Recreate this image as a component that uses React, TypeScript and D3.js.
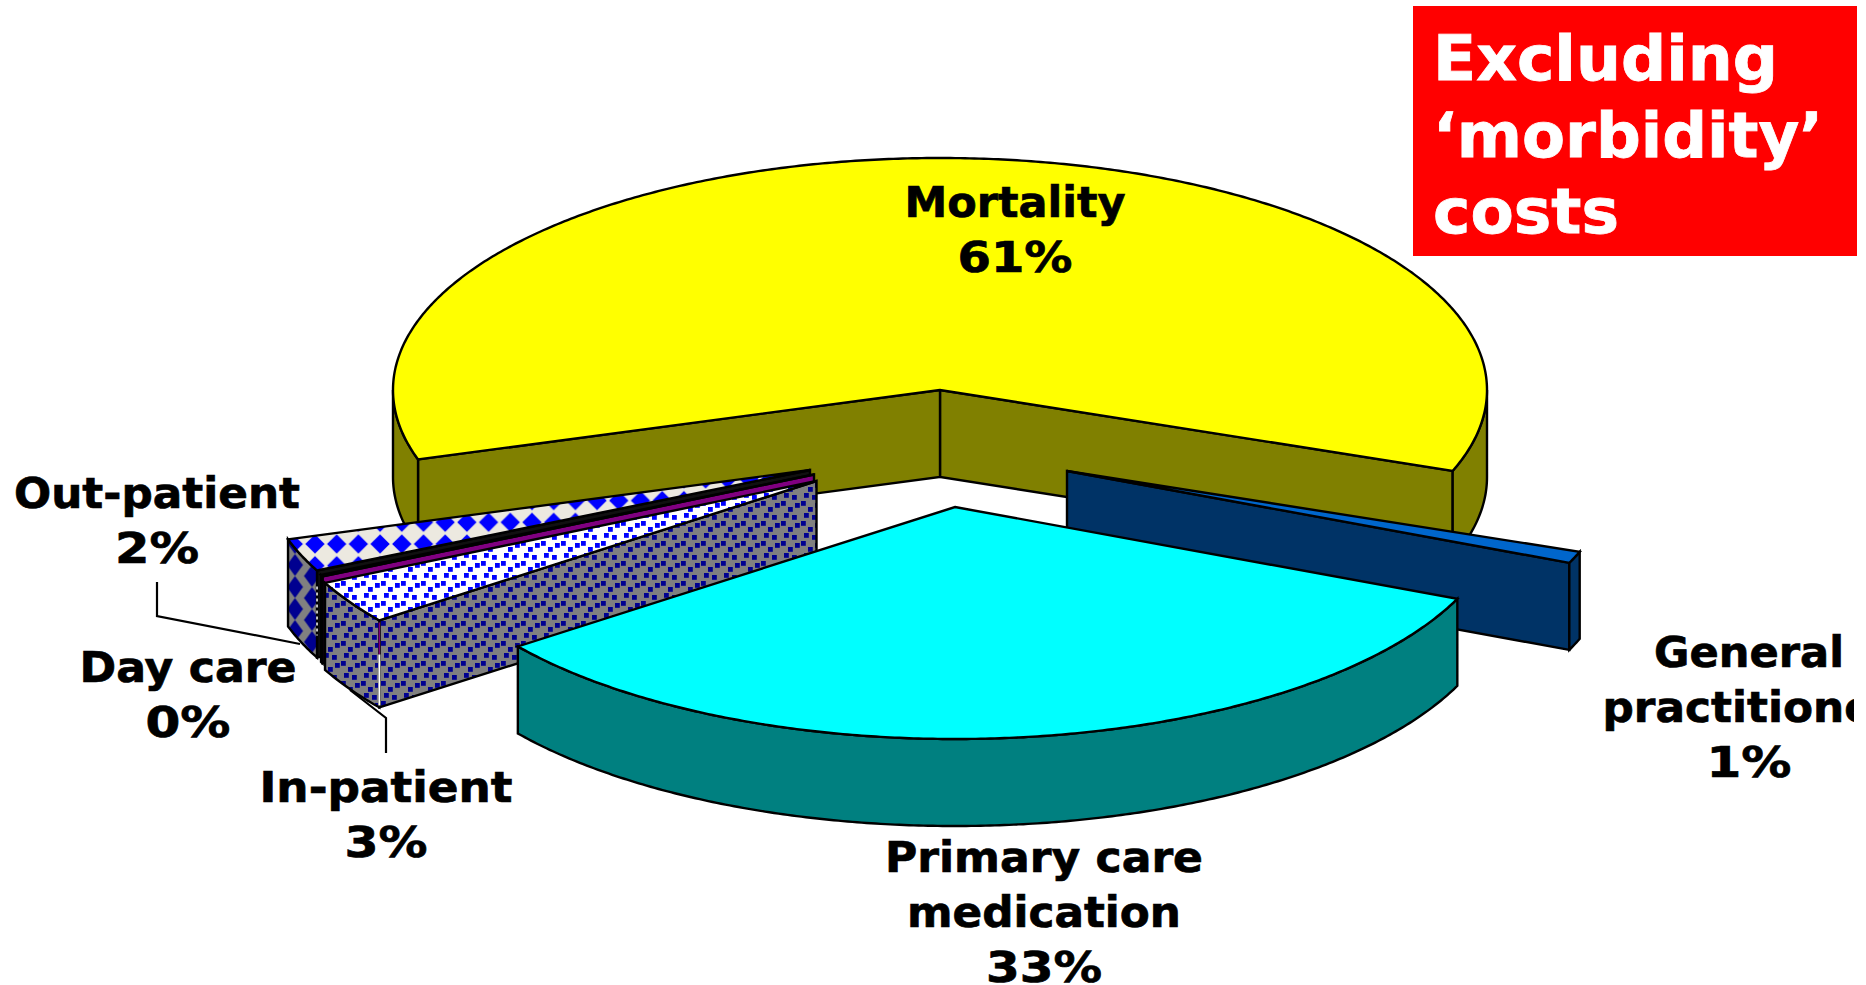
import React from "react";
import * as d3 from "d3";

// ---- chart data ----
const sliceNames = ["Mortality", "General practitioner", "Primary care medication", "In-patient", "Day care", "Out-patient"];
const sliceShares = [60.5, 0.81, 33.26, 3.03, 0.1, 2.3];
const labelLines = [["Mortality"], ["General", "practitioner"], ["Primary care", "medication"], ["In-patient"], ["Day care"], ["Out-patient"]];
const badgeLines = ["Excluding", "‘morbidity’", "costs"];

// ---- layout & style (not data) ----
const W = 1866, H = 985;
const CX = 940, CY = 390, RX = 547, RY = 232, DEPTH = 87;
const START_DEG = 162.6;
const explodeOffsets: [number, number][] = [[0, 0], [127, 81], [15, 117], [-123.5, 91], [-126, 84.5], [-130, 80]];
const topFills = ["#ffff00", "#0066cc", "#00ffff", "url(#dotsTop)", "#000000", "url(#diaTop)"];
const sideFills = ["#808000", "#003366", "#008080", "url(#dotsWall)", "#000000", "url(#diaWall)"];
const radialFills = ["#808000", "#003366", "#008080", "url(#dotsWall)", "#800080", "#101010"];
const drawOrder = [0, 5, 4, 3, 1, 2];
const labelAnchors: [number, number][] = [[1015, 217], [1749, 667], [1044, 871.5], [386, 802], [188, 682], [157, 508]];
const labelWidths = [[221, 115], [190, 293, 85], [318, 274, 116], [253, 83], [217, 85], [286, 84]];
const badgeWidths = [345, 390, 186];
const leaderOutPatient: [number, number][] = [[157, 582], [157, 616], [300, 644]];
const leaderInPatient: [number, number][] = [[386, 753], [386, 718], [350, 690]];
const confetti: [number, number][] = [[1, 1], [8, 7], [15, 3], [4, 13], [12, 15]];

const sx = d3.scaleLinear().domain([-1, 1]).range([CX - RX, CX + RX]);
const sy = d3.scaleLinear().domain([-1, 1]).range([CY - RY, CY + RY]);
const line = d3.line<[number, number]>();
const DEG = Math.PI / 180;

const arcs = d3.pie<number>().sort(null).startAngle(START_DEG * DEG).endAngle((START_DEG + 360) * DEG)(sliceShares);

function pt(t: number, off: [number, number], depth = 0): [number, number] {
  return [sx(Math.cos(t)) + off[0], sy(Math.sin(t)) + off[1] + depth];
}
function sample(a: number, b: number): number[] {
  const step = 0.5 * DEG;
  return [...d3.range(a, b, step), b];
}
function frontRanges(a: number, b: number): [number, number][] {
  const out: [number, number][] = [];
  for (let k = 0; k < 3; k++) {
    const lo = Math.max(a, k * 2 * Math.PI);
    const hi = Math.min(b, k * 2 * Math.PI + Math.PI);
    if (hi > lo) out.push([lo, hi]);
  }
  return out;
}

const STROKE = 2.4;

function Slice({ i }: { i: number }) {
  const arc = arcs[i];
  const off = explodeOffsets[i];
  const a = arc.startAngle, b = arc.endAngle;
  const apex: [number, number] = [CX + off[0], CY + off[1]];
  const apexLow: [number, number] = [apex[0], apex[1] + DEPTH];
  const radial = (t: number) =>
    line([apex, pt(t, off), pt(t, off, DEPTH), apexLow]) + "Z";
  const top = line([apex, ...sample(a, b).map((t) => pt(t, off))]) + "Z";
  const common = { stroke: "#000", strokeWidth: STROKE, strokeLinejoin: "miter" as const };
  return (
    <g>
      {Math.cos(b) > 0 && <path d={radial(b)} fill={radialFills[i]} {...common} />}
      {Math.cos(a) < 0 && <path d={radial(a)} fill={radialFills[i]} {...common} />}
      {frontRanges(a, b).map(([lo, hi], k) => {
        const ts = sample(lo, hi);
        const d = line([...ts.map((t) => pt(t, off)), ...ts.slice().reverse().map((t) => pt(t, off, DEPTH))]) + "Z";
        return <path key={k} d={d} fill={sideFills[i]} {...common} />;
      })}
      <path d={top} fill={topFills[i]} {...common} />
    </g>
  );
}

function Label({ i }: { i: number }) {
  const [x, y] = labelAnchors[i];
  const lines = [...labelLines[i], `${Math.round(sliceShares[i])}%`];
  return (
    <g>
      {lines.map((l, k) => (
        <text key={k} x={x} y={y + k * 55} textAnchor="middle" fontFamily="'DejaVu Sans'" fontWeight="bold"
          fontSize={43.5} fill="#000" stroke="#000" strokeWidth={0.7} textLength={labelWidths[i][k]} lengthAdjust="spacingAndGlyphs">{l}</text>
      ))}
    </g>
  );
}

export default function App() {
  const inFront = pt(arcs[3].startAngle, explodeOffsets[3]);
  const outFront = pt(arcs[5].startAngle, explodeOffsets[5]);
  return (
    <svg width={W} height={H} viewBox={`0 0 ${W} ${H}`} style={{ position: "absolute", left: 0, top: 0, background: "#fff", display: "block" }}>
      <defs>
        <clipPath id="pageClip"><rect x={0} y={0} width={1854} height={H} /></clipPath>
        <pattern id="diaTop" patternUnits="userSpaceOnUse" x={315 - 10.85} y={544 - 10.85} width={21.7} height={21.7}>
          <rect width={21.7} height={21.7} fill="#ece9e0" />
          <path d="M10.85 1.2 L20.5 10.85 L10.85 20.5 L1.2 10.85Z" fill="#0000ff" />
        </pattern>
        <pattern id="diaWall" patternUnits="userSpaceOnUse" x={295 - 8.5} y={565 - 11} width={34} height={22}>
          <rect width={34} height={22} fill="#808080" />
          <path d="M8.5 0 L16.5 11 L8.5 22 L0.5 11Z" fill="#000090" />
          <path d="M25.5 -11 L33.5 0 L25.5 11 L17.5 0Z" fill="#000090" />
          <path d="M25.5 11 L33.5 22 L25.5 33 L17.5 22Z" fill="#000090" />
        </pattern>
        <pattern id="dotsTop" patternUnits="userSpaceOnUse" width={20} height={20}>
          <rect width={20} height={20} fill="#fff" />
          {confetti.map(([x, y], k) => <rect key={k} x={x} y={y} width={4.8} height={4.8} fill="#0000ff" />)}
        </pattern>
        <pattern id="dotsWall" patternUnits="userSpaceOnUse" width={20} height={20}>
          <rect width={20} height={20} fill="#808080" />
          {confetti.map(([x, y], k) => <rect key={k} x={x} y={y} width={4.8} height={4.8} fill="#000090" />)}
        </pattern>
      </defs>

      {drawOrder.map((i) => <Slice key={i} i={i} />)}

      {/* edge highlights on the patterned slices */}
      <line x1={inFront[0]} y1={inFront[1] + 2} x2={inFront[0]} y2={inFront[1] + 34} stroke="#800080" strokeWidth={1.5} />
      <line x1={inFront[0]} y1={inFront[1] + 34} x2={inFront[0]} y2={inFront[1] + DEPTH - 2} stroke="#ffffff" strokeWidth={2} />
      <line x1={outFront[0]} y1={outFront[1] + 16} x2={outFront[0]} y2={outFront[1] + DEPTH - 22} stroke="#ffffff" strokeWidth={1.5} strokeDasharray="3 3" />

      <path d={line(leaderOutPatient)!} fill="none" stroke="#000" strokeWidth={2.2} />
      <path d={line(leaderInPatient)!} fill="none" stroke="#000" strokeWidth={2.2} />

      <g clipPath="url(#pageClip)">
        {sliceNames.map((_, i) => <Label key={i} i={i} />)}
      </g>

      <rect x={1413} y={6} width={444} height={250} fill="#ff0000" />
      {badgeLines.map((l, k) => (
        <text key={k} x={1433} y={80 + k * 76.5} fontFamily="'DejaVu Sans'" fontWeight="bold" fontSize={63} fill="#fff"
          stroke="#fff" strokeWidth={0.8} textLength={badgeWidths[k]} lengthAdjust="spacingAndGlyphs">{l}</text>
      ))}
    </svg>
  );
}
